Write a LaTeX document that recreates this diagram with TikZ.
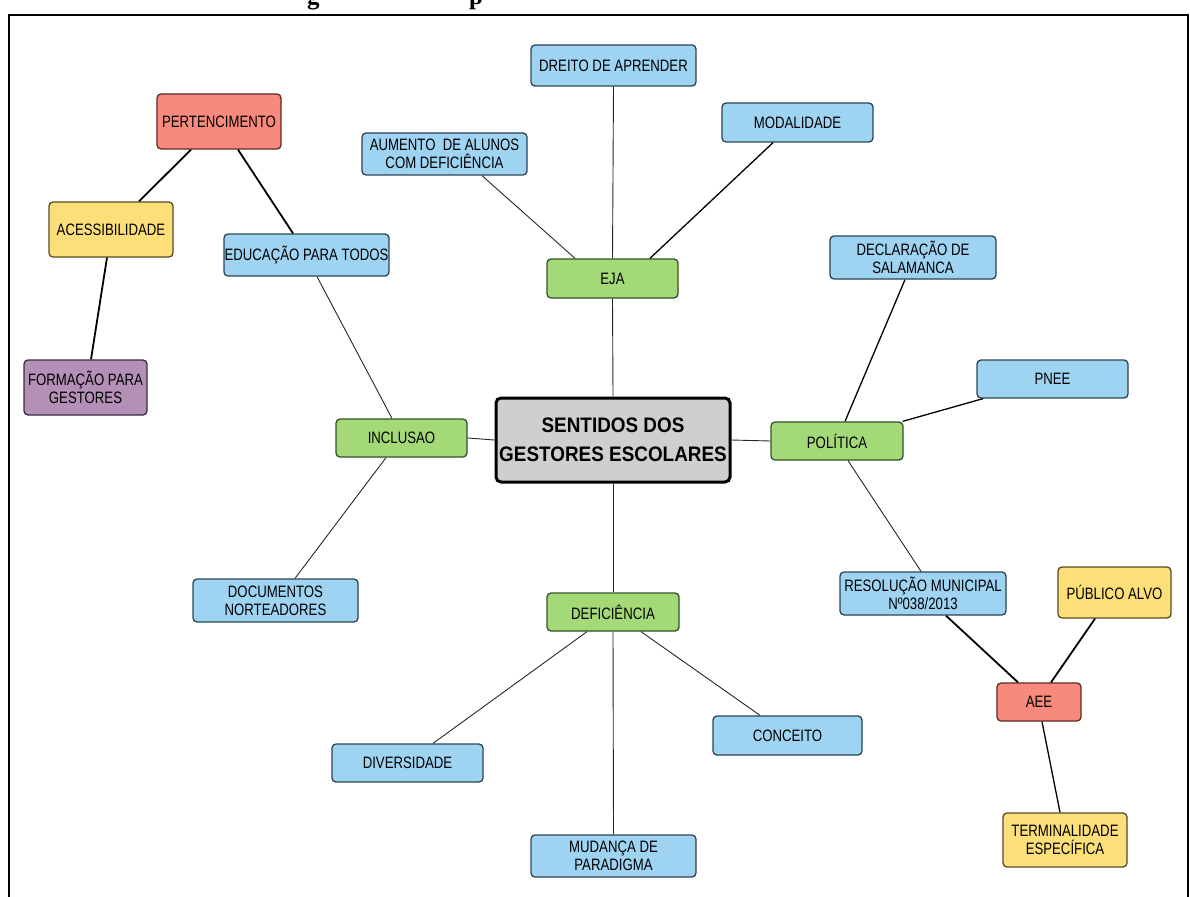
\documentclass[tikz,border=0pt]{standalone}
\usepackage{fontspec}
\newfontfamily\nar[FakeStretch=0.8]{Liberation Sans}
\newfontfamily\narb[FakeStretch=0.9]{Liberation Sans}
\newfontfamily\titlefont{Liberation Serif}
\definecolor{cblue}{HTML}{9ED3F2}
\definecolor{bblue}{HTML}{2B4556}
\definecolor{cgreen}{HTML}{A4D977}
\definecolor{bgreen}{HTML}{34502A}
\definecolor{cred}{HTML}{F88A7D}
\definecolor{bred}{HTML}{5A2A26}
\definecolor{cyel}{HTML}{FDDF7A}
\definecolor{byel}{HTML}{5A4A1E}
\definecolor{cpur}{HTML}{B48FB6}
\definecolor{bpur}{HTML}{3A2A3C}
\definecolor{cgray}{HTML}{CFCFCF}
\tikzset{
  box/.style={rectangle, rounded corners=4pt, line width=1.3pt, inner sep=0pt,
    align=center, font=\nar\fontsize{16.5}{18}\selectfont},
  bluebox/.style={box, fill=cblue, draw=bblue},
  greenbox/.style={box, fill=cgreen, draw=bgreen},
  redbox/.style={box, fill=cred, draw=bred},
  yelbox/.style={box, fill=cyel, draw=byel},
  purbox/.style={box, fill=cpur, draw=bpur},
  centbox/.style={rectangle, rounded corners=5pt, line width=3pt, inner sep=0pt,
    align=center, fill=cgray, draw=black,
    font=\narb\bfseries\fontsize{21}{29}\selectfont},
  sz/.style 2 args={minimum width=#1pt, minimum height=#2pt},
  thinl/.style={line width=0.9pt, draw=black!85},
  medl/.style={line width=1.3pt, draw=black},
  thickl/.style={line width=1.8pt, draw=black},
  titletext/.style={inner sep=0pt, anchor=base west,
    font=\titlefont\bfseries\fontsize{25}{25}\selectfont}
}
\begin{document}
\begin{tikzpicture}[x=1pt,y=-1pt]
\useasboundingbox (0,0) rectangle (1190,896);
% clipped title fragments
\node[titletext] (tg) at (307,4.5) {g};
\node[titletext] (tp) at (469,4.5) {p};
% frame
\draw[line width=2.6pt] (9,900) -- (9,15) -- (1188,15) -- (1188,900);
% nodes
\node[bluebox, sz={165}{41}] (dre) at (613.5,65.5) {DREITO DE APRENDER};
\node[bluebox, sz={165}{42}] (aum) at (444.5,154) {AUMENTO\ \ DE ALUNOS\\COM DEFICIÊNCIA};
\node[bluebox, sz={151}{39}] (mod) at (797.5,122.5) {MODALIDADE};
\node[redbox, sz={124}{55}] (per) at (219,121.5) {PERTENCIMENTO};
\node[yelbox, sz={124}{55}] (acc) at (111,229.5) {ACESSIBILIDADE};
\node[bluebox, sz={165}{42}] (edu) at (306.5,255) {EDUCAÇÃO PARA TODOS};
\node[purbox, sz={123}{55}] (for) at (85.5,387.5) {FORMAÇÃO PARA\\GESTORES};
\node[greenbox, sz={131}{39}] (eja) at (612.5,278.5) {EJA};
\node[bluebox, sz={166}{43}] (dec) at (913,257.5) {DECLARAÇÃO DE\\SALAMANCA};
\node[bluebox, sz={151}{38}] (pne) at (1052.5,379) {PNEE};
\node[greenbox, sz={132}{38}] (pol) at (837,441) {POLÍTICA};
\node[centbox, sz={234}{84}] (cen) at (613,440) {SENTIDOS DOS\\GESTORES ESCOLARES};
\node[greenbox, sz={131}{38}] (inc) at (401.5,438) {INCLUSAO};
\node[bluebox, sz={165}{43}] (doc) at (275.5,600.5) {DOCUMENTOS\\NORTEADORES};
\node[greenbox, sz={132}{38}] (def) at (613,612) {DEFICIÊNCIA};
\node[bluebox, sz={151}{38}] (div) at (407.5,763) {DIVERSIDADE};
\node[bluebox, sz={149}{39}] (con) at (787.5,735.5) {CONCEITO};
\node[bluebox, sz={165}{42}] (mud) at (613.5,856) {MUDANÇA DE\\PARADIGMA};
\node[bluebox, sz={166}{43}] (res) at (923,593.5) {RESOLUÇÃO MUNICIPAL\\Nº038/2013};
\node[yelbox, sz={113}{51}] (pub) at (1114.5,592.5) {PÚBLICO ALVO};
\node[redbox, sz={84}{38}] (aee) at (1039,702) {AEE};
\node[yelbox, sz={124}{54}] (ter) at (1065,840) {TERMINALIDADE\\ESPECÍFICA};
% connectors
\draw[thinl] (cen.north) -- (eja.south);
\draw[thinl] (eja.north) -- (dre.south);
\draw[thinl] ([xshift=-37.5pt]eja.north) -- ([xshift=37.5pt]aum.south);
\draw[medl] ([xshift=37.5pt]eja.north) -- ([xshift=-24.5pt]mod.south);
\draw[thinl] (cen.west) -- (inc.east);
\draw[thinl] ([xshift=-9.5pt]inc.north) -- ([xshift=10.5pt]edu.south);
\draw[thinl] ([xshift=-15.5pt]inc.south) -- ([xshift=19.5pt]doc.north);
\draw[thinl] (cen.east) -- (pol.west);
\draw[medl] ([xshift=8pt]pol.north) -- ([xshift=-8pt]dec.south);
\draw[medl] ([xshift=-1pt]pol.north east) -- ([xshift=-69.5pt]pne.south);
\draw[thinl] ([xshift=11pt]pol.south) -- ([xshift=-2pt]res.north);
\draw[thickl] ([xshift=23pt]res.south) -- ([xshift=-21pt]aee.north);
\draw[thickl] ([xshift=-19.5pt]pub.south) -- ([xshift=12pt]aee.north);
\draw[medl] ([xshift=3pt]aee.south) -- ([xshift=-5pt]ter.north);
\draw[thinl] (cen.south) -- (def.north);
\draw[thinl] ([xshift=-26pt]def.south) -- ([xshift=25.5pt]div.north);
\draw[thinl] ([xshift=28pt]def.south) -- ([xshift=-27.5pt]con.north);
\draw[thinl] (def.south) -- (mud.north);
\draw[thickl] ([xshift=-28pt]per.south) -- ([xshift=28pt]acc.north);
\draw[thickl] ([xshift=19pt]per.south) -- ([xshift=-13.5pt]edu.north);
\draw[thickl] ([xshift=-4pt]acc.south) -- ([xshift=5.5pt]for.north);
\end{tikzpicture}
\end{document}
